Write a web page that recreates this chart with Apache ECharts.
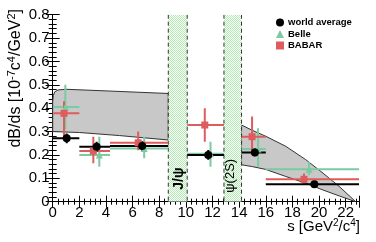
<!DOCTYPE html>
<html><head><meta charset="utf-8">
<script src="https://cdn.jsdelivr.net/npm/echarts@6/dist/echarts.min.js"></script>
<style>html,body{margin:0;padding:0;background:#fff}#c{width:376px;height:242px}</style>
</head><body><div id="c"></div>
<script>
// ---- data ----
const binLo = [0, 2, 4.3, 10.1, 14.18, 16];
const binHi = [2, 4.3, 8.68, 12.86, 16, 23];

const waX = [1.05, 3.3, 6.72, 11.68, 15.18, 19.65];
const waY = [0.271, 0.235, 0.238, 0.200, 0.211, 0.075];
const waLo = [0.250, 0.214, 0.217, 0.179, 0.194, 0.065];
const waHi = [0.292, 0.256, 0.259, 0.221, 0.228, 0.085];

const beX = [0.95, 3.5, 6.87, 11.85, 15.42, 19.25];
const beY = [0.405, 0.200, 0.228, 0.205, 0.225, 0.139];
const beLo = [0.310, 0.150, 0.186, 0.150, 0.150, 0.114];
const beHi = [0.500, 0.278, 0.278, 0.257, 0.314, 0.171];
const beBinLo = [0.05, 2, 4.3, 10.1, 14.18, 16];

const baX = [0.85, 3.05, 6.42, 11.42, 14.97, 18.87];
const baY = [0.378, 0.217, 0.252, 0.328, 0.278, 0.096];
const baLo = [0.280, 0.164, 0.220, 0.257, 0.214, 0.071];
const baHi = [0.430, 0.278, 0.300, 0.400, 0.364, 0.121];
const baBinLo = [0.05, 2, 4.3, 10.1, 14.18, 16];

// theory band (two segments)
const band1UpX = [0, 0.05, 0.15, 0.4, 1, 4, 8.68];
const band1UpY = [0.43, 0.455, 0.47, 0.478, 0.481, 0.474, 0.463];
const band1LoX = [0, 2, 5, 8.68];
const band1LoY = [0.300, 0.296, 0.283, 0.264];
const band2UpX = [14.18, 15, 16, 17.5, 19, 20.3, 21.5, 22.75];
const band2UpY = [0.328, 0.305, 0.28, 0.237, 0.18, 0.122, 0.066, 0];
const band2LoX = [14.18, 15, 16, 17.5, 19, 20.3, 21.5, 22.75];
const band2LoY = [0.158, 0.15, 0.138, 0.108, 0.079, 0.05, 0.025, 0];

// charmonium vetoes
const vetoLo = [8.68, 12.86];
const vetoHi = [10.1, 14.18];
const vetoText = ['J/ψ', 'ψ(2S)'];

const seriesNames = ['world average', 'Belle', 'BABAR'];
const FONT = 'Liberation Sans, Arial, Helvetica, sans-serif';
const C_WA = '#000000', C_BE = '#7ccaa2', C_BA = '#de5c5c';

// pattern for veto bands
const pat = document.createElement('canvas');
pat.width = 2; pat.height = 2;
(function(){const g = pat.getContext('2d');
 g.fillStyle = '#ffffff'; g.fillRect(0,0,2,2);
 g.fillStyle = '#b2ebb2'; g.fillRect(0,0,1,1); g.fillRect(1,1,1,1);})();

const chart = echarts.init(document.getElementById('c'), null, {renderer: 'canvas'});

function errSeries(name, xs, ys, lo, hi, xl, xh, color) {
  return {
    type: 'custom', name: name, xAxisIndex: 0, yAxisIndex: 0, clip: true, z: 5,
    data: xs.map((x, i) => [x, ys[i], lo[i], hi[i], xl[i], xh[i]]),
    renderItem: function (params, api) {
      const x = api.value(0), y = api.value(1);
      const pl = api.coord([api.value(4), y]), pr = api.coord([api.value(5), y]);
      const pb = api.coord([x, api.value(2)]), pt = api.coord([x, api.value(3)]);
      const st = {stroke: color, lineWidth: 2};
      return {type: 'group', children: [
        {type: 'line', shape: {x1: pl[0], y1: pl[1], x2: pr[0], y2: pr[1]}, style: st},
        {type: 'line', shape: {x1: pb[0], y1: pb[1], x2: pt[0], y2: pt[1]}, style: st}
      ]};
    }
  };
}

function bandPoly(api, ux, uy, lx, ly) {
  const pts = [];
  for (let i = 0; i < ux.length; i++) pts.push(api.coord([ux[i], uy[i]]));
  for (let i = lx.length - 1; i >= 0; i--) pts.push(api.coord([lx[i], ly[i]]));
  return pts;
}

const option = {
  animation: false,
  backgroundColor: '#fff',
  grid: {left: 52.7, right: 17, top: 14.7, bottom: 40.3, containLabel: false},
  xAxis: [
    {type: 'value', min: 0, max: 23, interval: 2, position: 'bottom',
     axisLine: {lineStyle: {color: '#000', width: 1}},
     axisTick: {inside: true, length: 6, lineStyle: {color: '#000'}},
     minorTick: {show: true, splitNumber: 5, length: 3, lineStyle: {color: '#000'}},
     axisLabel: {color: '#000', fontSize: 15, fontFamily: FONT, margin: 4, showMaxLabel: false},
     splitLine: {show: false}},
    {type: 'value', min: 0, max: 23, interval: 2, position: 'top',
     axisLine: {lineStyle: {color: '#000', width: 1}},
     axisTick: {inside: true, length: 6, lineStyle: {color: '#000'}},
     minorTick: {show: true, splitNumber: 5, length: 3, lineStyle: {color: '#000'}},
     axisLabel: {show: false}, splitLine: {show: false}}
  ],
  yAxis: [
    {type: 'value', min: 0, max: 0.8, interval: 0.1, position: 'left',
     axisLine: {show: true, lineStyle: {color: '#000', width: 1}},
     axisTick: {show: true, inside: true, length: 7, lineStyle: {color: '#000'}},
     minorTick: {show: true, splitNumber: 5, length: 4, lineStyle: {color: '#000'}},
     axisLabel: {color: '#000', fontSize: 15, fontFamily: FONT, margin: 3,
       formatter: v => v === 0 ? '0' : v.toFixed(1)},
     splitLine: {show: false}},
    {type: 'value', min: 0, max: 0.8, interval: 0.1, position: 'right',
     axisLine: {show: true, lineStyle: {color: '#000', width: 1}},
     axisTick: {show: true, inside: true, length: 7, lineStyle: {color: '#000'}},
     minorTick: {show: true, splitNumber: 5, length: 4, lineStyle: {color: '#000'}},
     axisLabel: {show: false}, splitLine: {show: false}}
  ],
  legend: {
    left: 276, top: 17.5, orient: 'vertical', padding: 0, itemGap: 1.5,
    itemWidth: 8, itemHeight: 8, itemStyle: {borderWidth: 0},
    textStyle: {fontFamily: FONT, fontWeight: 'bold', fontSize: 9.5, color: '#000', lineHeight: 10, padding: [0,0,0,-1]},
    data: [
      {name: 'world average', icon: 'circle'},
      {name: 'Belle', icon: 'triangle'},
      {name: 'BABAR', icon: 'rect'}
    ]
  },
  series: [
    {
      type: 'custom', name: 'band', silent: true, z: 1, clip: true,
      data: [[0], [1]],
      renderItem: function (params, api) {
        const pts = params.dataIndex === 0
          ? bandPoly(api, band1UpX, band1UpY, band1LoX, band1LoY)
          : bandPoly(api, band2UpX, band2UpY, band2LoX, band2LoY);
        return {type: 'polygon', shape: {points: pts}, style: {fill: '#c8c8c8', stroke: '#333', lineWidth: 1}};
      }
    },
    {
      type: 'custom', name: 'veto', silent: true, z: 2, clip: true,
      data: vetoLo.map((l, i) => [l, vetoHi[i]]),
      renderItem: function (params, api) {
        const a = api.coord([api.value(0), 0.8]), b = api.coord([api.value(1), 0]);
        const dash = {stroke: '#333', lineWidth: 1, lineDash: [4, 3]};
        const i = params.dataIndex;
        return {type: 'group', children: [
          {type: 'rect', shape: {x: a[0], y: a[1], width: b[0] - a[0], height: b[1] - a[1]},
           style: {fill: {image: pat, repeat: 'repeat'}}},
          {type: 'line', shape: {x1: a[0], y1: a[1], x2: a[0], y2: b[1]}, style: dash},
          {type: 'line', shape: {x1: b[0], y1: a[1], x2: b[0], y2: b[1]}, style: dash},
          {type: 'text', x: b[0] - (i === 0 ? 1.5 : 4.5), y: b[1] - (i === 0 ? 12 : 9), rotation: Math.PI / 2,
           style: {text: vetoText[i], fill: '#000', font: (i === 0 ? 'bold 14px ' : '13px ') + FONT,
                   align: 'left', verticalAlign: 'bottom'}}
        ]};
      }
    },
    errSeries('BelleErr', beX, beY, beLo, beHi, beBinLo, binHi, C_BE),
    errSeries('BABARErr', baX, baY, baLo, baHi, baBinLo, binHi, C_BA),
    errSeries('waErr', waX, waY, waLo, waHi, binLo, binHi, C_WA),
    {type: 'scatter', name: 'Belle', symbol: 'triangle', symbolSize: 7, z: 6,
     itemStyle: {color: C_BE, opacity: 1}, data: beX.map((x, i) => [x, beY[i]])},
    {type: 'scatter', name: 'BABAR', symbol: 'rect', symbolSize: 7, z: 6,
     itemStyle: {color: C_BA, opacity: 1}, data: baX.map((x, i) => [x, baY[i]])},
    {type: 'scatter', name: 'world average', symbol: 'circle', symbolSize: 8, z: 7,
     itemStyle: {color: C_WA, opacity: 1}, data: waX.map((x, i) => [x, waY[i]])}
  ],
  graphic: [
    {type: 'text', x: 16, y: 9, rotation: Math.PI / 2, z: 10,
     style: {text: '{m|dB/ds [10}{s|-7}{m|c}{s|4}{m|/GeV}{s|2}{m|]}', align: 'right', verticalAlign: 'middle',
       rich: {m: {fontFamily: FONT, fontSize: 16, lineHeight: 19, fill: '#000'},
              s: {fontFamily: FONT, fontSize: 11, lineHeight: 11, verticalAlign: 'top', fill: '#000'}}}},
    {type: 'text', x: 360, y: 227, z: 10,
     style: {text: '{m|s [GeV}{s|2}{m|/c}{s|4}{m|]}', align: 'right', verticalAlign: 'middle',
       rich: {m: {fontFamily: FONT, fontSize: 15, lineHeight: 18, fill: '#000'},
              s: {fontFamily: FONT, fontSize: 10, lineHeight: 10, verticalAlign: 'top', fill: '#000'}}}}
  ]
};
chart.setOption(option);
</script></body></html>
